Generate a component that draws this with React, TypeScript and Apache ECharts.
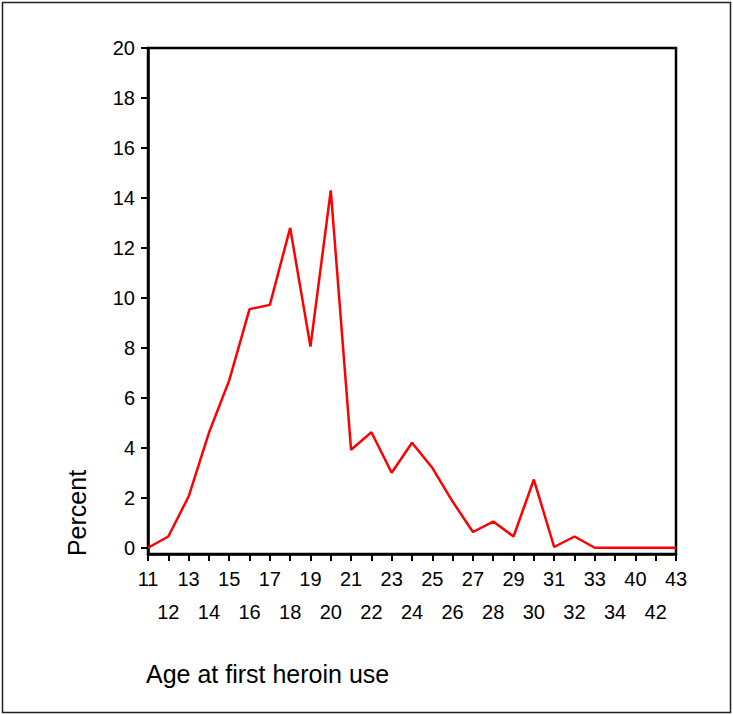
import React, { useEffect, useRef } from "react";
import * as echarts from "echarts";

const ages = ["11","12","13","14","15","16","17","18","19","20","21","22","23","24","25","26","27","28","29","30","31","32","33","34","40","42","43"];
const percents = [0, 0.45, 2.05, 4.6, 6.7, 9.55, 9.72, 12.8, 8.05, 14.3, 3.92, 4.62, 3.0, 4.2, 3.2, 1.85, 0.63, 1.05, 0.45, 2.73, 0.03, 0.45, 0, 0, 0, 0, 0];
const yTicks = [0, 2, 4, 6, 8, 10, 12, 14, 16, 18, 20];
const yTitle = "Percent";
const xTitle = "Age at first heroin use";

export default function App() {
  const ref = useRef<HTMLDivElement>(null);
  useEffect(() => {
    if (!ref.current) return;
    const chart = echarts.init(ref.current, null, { renderer: "svg" });
    const font = "'Liberation Sans', Arial, sans-serif";
    chart.setOption({
      animation: false,
      backgroundColor: "#ffffff",
      textStyle: { fontFamily: font },
      grid: {
        left: 148,
        right: 57,
        top: 48,
        bottom: 161,
        show: true,
        borderColor: "#000",
        borderWidth: 2.5,
        containLabel: false,
      },
      xAxis: {
        type: "category",
        data: ages,
        boundaryGap: false,
        axisLine: { show: true, onZero: false, lineStyle: { color: "#000", width: 2.5 } },
        axisTick: { show: true, length: 7, interval: 0, lineStyle: { color: "#000", width: 2 } },
        axisLabel: {
          interval: 0,
          color: "#000",
          fontSize: 20,
          fontFamily: font,
          lineHeight: 33,
          margin: 8,
          formatter: (v: string, i: number) => (i % 2 === 0 ? v : "\n" + v),
        },
        splitLine: { show: false },
      },
      yAxis: {
        type: "value",
        min: -0.25,
        max: 20,
        axisLine: { show: true, onZero: false, lineStyle: { color: "#000", width: 2.5 } },
        axisTick: { show: true, length: 7, customValues: yTicks, lineStyle: { color: "#000", width: 2 } },
        axisLabel: {
          color: "#000",
          fontSize: 20,
          fontFamily: font,
          margin: 13,
          customValues: yTicks,
        },
        splitLine: { show: false },
      },
      graphic: [
        {
          type: "rect",
          shape: { x: 2.5, y: 2.5, width: 728, height: 710 },
          style: { fill: "none", stroke: "#222", lineWidth: 1.5 },
          silent: true,
        },
        {
          type: "text",
          x: 77,
          y: 513,
          rotation: Math.PI / 2,
          style: {
            text: yTitle,
            fontSize: 25,
            fontFamily: font,
            fill: "#000",
            align: "center",
            verticalAlign: "middle",
          },
        },
        {
          type: "text",
          x: 146,
          y: 674,
          style: {
            text: xTitle,
            fontSize: 25,
            fontFamily: font,
            fill: "#000",
            align: "left",
            verticalAlign: "middle",
          },
        },
      ],
      series: [
        {
          type: "line",
          data: percents,
          showSymbol: false,
          symbol: "none",
          lineStyle: { color: "#ff0000", width: 2.5 },
        },
      ],
    });
    return () => chart.dispose();
  }, []);
  return (
    <div
      ref={ref}
      style={{ position: "absolute", left: 0, top: 0, width: 733, height: 715 }}
    />
  );
}
